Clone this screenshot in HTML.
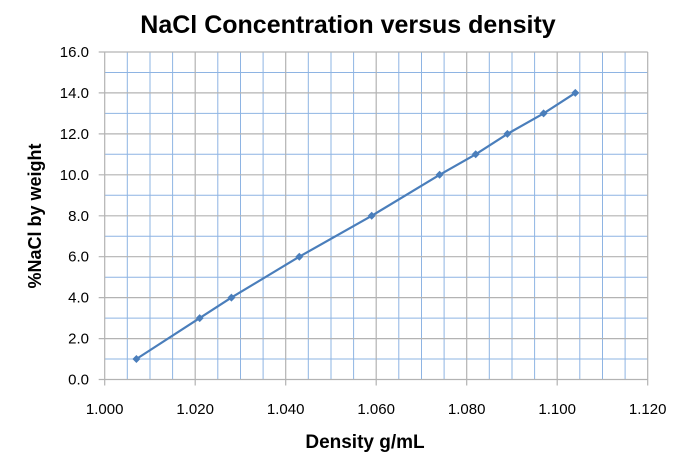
<!DOCTYPE html>
<html><head><style>body{margin:0;background:#fff}svg{display:block}text{font-family:"Liberation Sans",Arial,sans-serif}</style></head>
<body>
<svg width="700" height="461" xmlns="http://www.w3.org/2000/svg">
<rect width="700" height="461" fill="#fff"/>
<g stroke="#8eb4e3" stroke-width="1">
<line x1="127.3" x2="127.3" y1="52" y2="379.5"/><line x1="150" x2="150" y1="52" y2="379.5"/><line x1="172.6" x2="172.6" y1="52" y2="379.5"/>
<line x1="217.8" x2="217.8" y1="52" y2="379.5"/><line x1="240.5" x2="240.5" y1="52" y2="379.5"/><line x1="263.1" x2="263.1" y1="52" y2="379.5"/>
<line x1="308.3" x2="308.3" y1="52" y2="379.5"/><line x1="331" x2="331" y1="52" y2="379.5"/><line x1="353.6" x2="353.6" y1="52" y2="379.5"/>
<line x1="398.8" x2="398.8" y1="52" y2="379.5"/><line x1="421.5" x2="421.5" y1="52" y2="379.5"/><line x1="444.1" x2="444.1" y1="52" y2="379.5"/>
<line x1="489.3" x2="489.3" y1="52" y2="379.5"/><line x1="512" x2="512" y1="52" y2="379.5"/><line x1="534.6" x2="534.6" y1="52" y2="379.5"/>
<line x1="579.8" x2="579.8" y1="52" y2="379.5"/><line x1="602.5" x2="602.5" y1="52" y2="379.5"/><line x1="625.1" x2="625.1" y1="52" y2="379.5"/>
<line x1="104.7" x2="647.7" y1="359" y2="359"/><line x1="104.7" x2="647.7" y1="318.1" y2="318.1"/><line x1="104.7" x2="647.7" y1="277.2" y2="277.2"/>
<line x1="104.7" x2="647.7" y1="236.2" y2="236.2"/><line x1="104.7" x2="647.7" y1="195.3" y2="195.3"/><line x1="104.7" x2="647.7" y1="154.3" y2="154.3"/>
<line x1="104.7" x2="647.7" y1="113.4" y2="113.4"/><line x1="104.7" x2="647.7" y1="72.5" y2="72.5"/>
</g>
<g stroke="#b3b3b3" stroke-width="1.2">
<line x1="104.7" x2="104.7" y1="52" y2="385.5"/><line x1="195.2" x2="195.2" y1="52" y2="385.5"/><line x1="285.7" x2="285.7" y1="52" y2="385.5"/>
<line x1="376.2" x2="376.2" y1="52" y2="385.5"/><line x1="466.7" x2="466.7" y1="52" y2="385.5"/><line x1="557.2" x2="557.2" y1="52" y2="385.5"/><line x1="647.7" x2="647.7" y1="52" y2="385.5"/>
<line x1="98.7" x2="647.7" y1="379.5" y2="379.5"/><line x1="98.7" x2="647.7" y1="338.6" y2="338.6"/><line x1="98.7" x2="647.7" y1="297.6" y2="297.6"/>
<line x1="98.7" x2="647.7" y1="256.7" y2="256.7"/><line x1="98.7" x2="647.7" y1="215.8" y2="215.8"/><line x1="98.7" x2="647.7" y1="174.8" y2="174.8"/>
<line x1="98.7" x2="647.7" y1="133.9" y2="133.9"/><line x1="98.7" x2="647.7" y1="92.9" y2="92.9"/><line x1="98.7" x2="647.7" y1="52" y2="52"/>
</g>
<g font-size="15" text-anchor="middle">
<text x="104.7" y="414">1.000</text><text x="195.2" y="414">1.020</text><text x="285.7" y="414">1.040</text><text x="376.2" y="414">1.060</text>
<text x="466.7" y="414">1.080</text><text x="557.2" y="414">1.100</text><text x="647.7" y="414">1.120</text>
</g>
<g font-size="15" text-anchor="end">
<text x="89" y="384.5">0.0</text><text x="89" y="343.6">2.0</text><text x="89" y="302.6">4.0</text><text x="89" y="261.7">6.0</text>
<text x="89" y="220.8">8.0</text><text x="89" y="179.8">10.0</text><text x="89" y="138.9">12.0</text><text x="89" y="97.9">14.0</text><text x="89" y="57">16.0</text>
</g>
<polyline fill="none" stroke="#4a7ebb" stroke-width="2.2" points="136.4,359 199.7,318.1 231.4,297.6 299.3,256.7 371.7,215.8 439.6,174.8 475.7,154.3 507.4,133.9 543.6,113.4 575.3,92.9"/>
<g fill="#4a7ebb">
<polygon points="136.4,355 140.4,359 136.4,363 132.4,359"/>
<polygon points="199.7,314.1 203.7,318.1 199.7,322.1 195.7,318.1"/>
<polygon points="231.4,293.6 235.4,297.6 231.4,301.6 227.4,297.6"/>
<polygon points="299.3,252.7 303.3,256.7 299.3,260.7 295.3,256.7"/>
<polygon points="371.7,211.8 375.7,215.8 371.7,219.8 367.7,215.8"/>
<polygon points="439.6,170.8 443.6,174.8 439.6,178.8 435.6,174.8"/>
<polygon points="475.7,150.3 479.7,154.3 475.7,158.3 471.7,154.3"/>
<polygon points="507.4,129.9 511.4,133.9 507.4,137.9 503.4,133.9"/>
<polygon points="543.6,109.4 547.6,113.4 543.6,117.4 539.6,113.4"/>
<polygon points="575.3,88.9 579.3,92.9 575.3,96.9 571.3,92.9"/>
</g>
<text x="348" y="33" text-anchor="middle" font-size="25" font-weight="bold">NaCl Concentration versus density</text>
<text x="365" y="448" text-anchor="middle" font-size="19" font-weight="bold">Density g/mL</text>
<text transform="translate(41,216) rotate(-90)" text-anchor="middle" font-size="18" font-weight="bold">%NaCl by weight</text>
</svg>
</body></html>
